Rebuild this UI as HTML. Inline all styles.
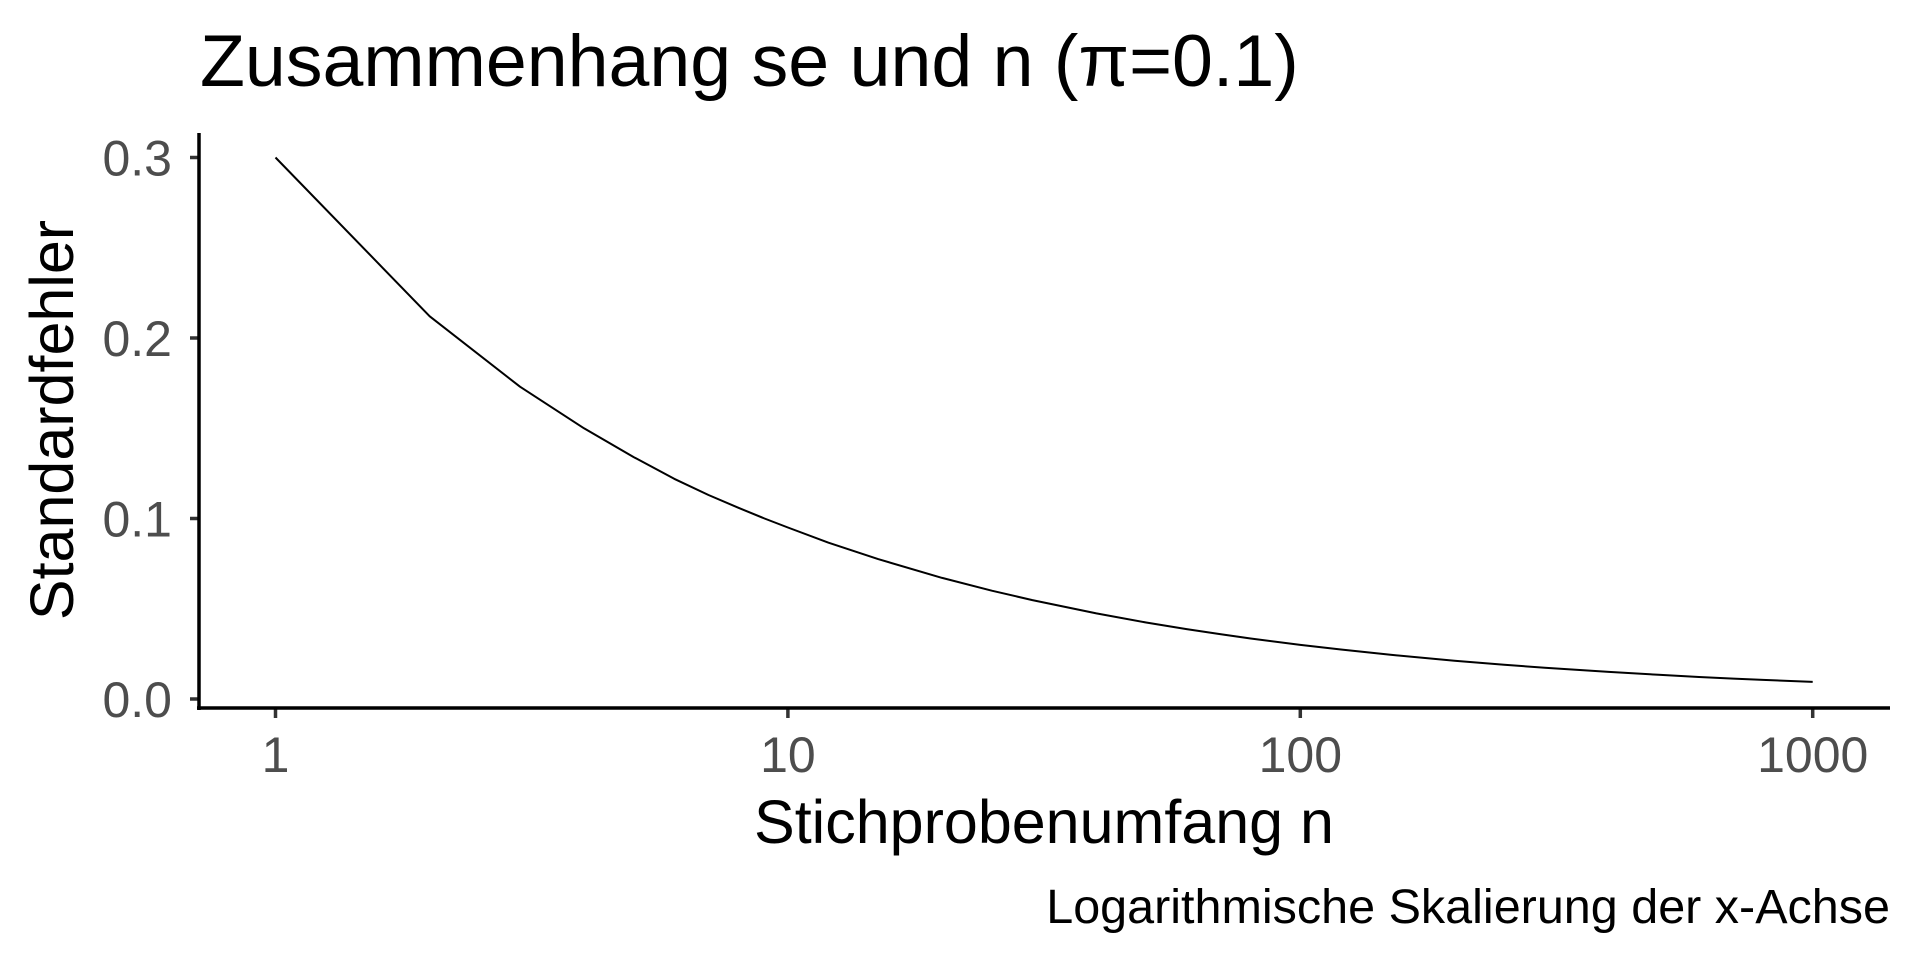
<!DOCTYPE html>
<html><head><meta charset="utf-8"><style>
html,body{margin:0;padding:0;background:#fff}
svg text{font-family:"Liberation Sans",Arial,sans-serif}
</style></head><body>
<svg id="chart" width="1920" height="960" viewBox="0 0 1920 960" xmlns="http://www.w3.org/2000/svg">
<rect width="1920" height="960" fill="#fff"/>
<text x="200" y="86" font-size="73.5" fill="#000">Zusammenhang se und n (π=0.1)</text>
<g id="yticks"></g><g id="xticks"></g>
<path id="line" fill="none" stroke="#000" stroke-width="2" stroke-linejoin="round"/>
<line x1="199" y1="133" x2="199" y2="710" stroke="#000" stroke-width="3.5"/>
<line x1="197" y1="708" x2="1890" y2="708" stroke="#000" stroke-width="3.5"/>
<text x="1044" y="843" font-size="61" text-anchor="middle" fill="#000">Stichprobenumfang n</text>
<text x="0" y="0" font-size="61" text-anchor="middle" fill="#000" transform="translate(73,420) rotate(-90)">Standardfehler</text>
<text x="1890" y="923" font-size="48.5" text-anchor="end" fill="#000">Logarithmische Skalierung der x-Achse</text>
</svg>
<script>
const nValues=[1,2,3,4,5,6,7,8,9,10,12,15,20,25,30,40,50,60,70,80,100,120,150,200,250,300,400,500,600,700,800,1000];
const seValues=[0.3,0.212,0.173,0.15,0.134,0.122,0.113,0.106,0.1,0.095,0.0866,0.0775,0.0671,0.06,0.0548,0.0474,0.0424,0.0387,0.0359,0.0335,0.03,0.0274,0.0245,0.0212,0.019,0.0173,0.015,0.0134,0.0122,0.0113,0.0106,0.0095];
const xTicks=[1,10,100,1000];
const xTickLabels=["1","10","100","1000"];
const yTicks=[0,0.1,0.2,0.3];
const yTickLabels=["0.0","0.1","0.2","0.3"];
const NS="http://www.w3.org/2000/svg";
function xs(v){return 275.5+Math.log10(v)*512.4;}
function ys(v){return 699-v*1805;}
const yg=document.getElementById('yticks');
yTicks.forEach((t,i)=>{
 const l=document.createElementNS(NS,'line');
 l.setAttribute('x1',190);l.setAttribute('x2',199);l.setAttribute('y1',ys(t));l.setAttribute('y2',ys(t));
 l.setAttribute('stroke','#333');l.setAttribute('stroke-width',3.5);
 
 
 yg.appendChild(l);
 const tx=document.createElementNS(NS,'text');
 tx.setAttribute('x',172);tx.setAttribute('y',ys(t)+18);tx.setAttribute('text-anchor','end');
 tx.setAttribute('font-size',50);tx.setAttribute('fill','#4d4d4d');tx.textContent=yTickLabels[i];
 
 
 yg.appendChild(tx);
});
const xg=document.getElementById('xticks');
xTicks.forEach((t,i)=>{
 const l=document.createElementNS(NS,'line');
 l.setAttribute('x1',xs(t));l.setAttribute('x2',xs(t));l.setAttribute('y1',708);l.setAttribute('y2',718);
 l.setAttribute('stroke','#333');l.setAttribute('stroke-width',3.5);
 
 
 xg.appendChild(l);
 const tx=document.createElementNS(NS,'text');
 tx.setAttribute('x',xs(t));tx.setAttribute('y',772);tx.setAttribute('text-anchor','middle');
 tx.setAttribute('font-size',50);tx.setAttribute('fill','#4d4d4d');tx.textContent=xTickLabels[i];
 
 
 xg.appendChild(tx);
});
let d='';
nValues.forEach((n,i)=>{d+=(i?'L':'M')+xs(n).toFixed(1)+','+ys(seValues[i]).toFixed(1);});
document.getElementById('line').setAttribute('d',d);
</script>
</body></html>
